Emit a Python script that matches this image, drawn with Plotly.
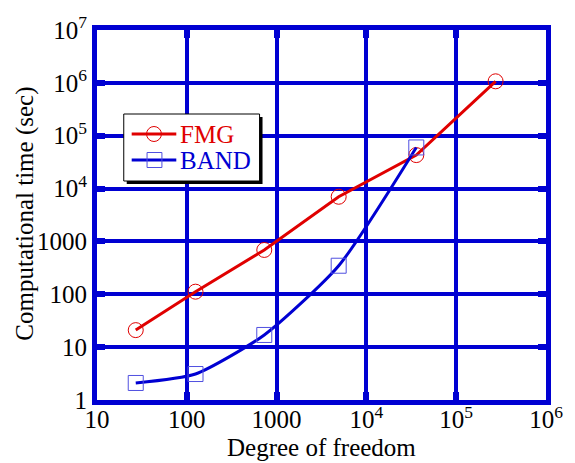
import plotly.graph_objects as go

dof = [27, 125, 729, 4913, 35937, 274625]
fmg_time = [21, 112, 690, 7000, 43000, 1.07e6]
band_dof = [27, 125, 729, 4913, 35937]
band_time = [2.1, 3.1, 17, 347, 60000]

x_tickvals = [10, 100, 1000, 1e4, 1e5, 1e6]
x_ticktext = ["10", "100", "1000", "10<sup>4</sup>", "10<sup>5</sup>", "10<sup>6</sup>"]
y_tickvals = [1, 10, 100, 1000, 1e4, 1e5, 1e6, 1e7]
y_ticktext = ["1", "10", "100", "1000", "10<sup>4</sup>", "10<sup>5</sup>", "10<sup>6</sup>", "10<sup>7</sup>"]

series_names = ["FMG", "BAND"]

RED = "#e00000"
BLUE = "#0000d2"
SQ = "#5050e0"
FONT = "Liberation Serif"

fig = go.Figure()
fig.add_trace(go.Scatter(
    x=dof, y=fmg_time, name=series_names[0], mode="lines+markers",
    line=dict(color=RED, width=3),
    marker=dict(symbol="circle-open", size=15, color=RED, line=dict(width=1)),
))
fig.add_trace(go.Scatter(
    x=band_dof, y=band_time, name=series_names[1], mode="lines+markers",
    line=dict(color=BLUE, width=3, shape="spline", smoothing=0.6),
    marker=dict(symbol="square-open", size=15, color=SQ, line=dict(width=1)),
))

axis_common = dict(
    type="log", showgrid=True, gridcolor=BLUE, gridwidth=4,
    showline=True, linecolor=BLUE, linewidth=5, mirror="all",
    ticks="inside", ticklen=8, tickwidth=6, tickcolor=BLUE,
    zeroline=False, tickfont=dict(family=FONT, size=25, color="black"),
)
fig.update_xaxes(range=[1, 6], tickvals=x_tickvals, ticktext=x_ticktext,
                 ticklabelstandoff=-7, **axis_common)
fig.update_yaxes(range=[0, 7], tickvals=y_tickvals, ticktext=y_ticktext, **axis_common)

L, R, T, B = 97, 25, 30, 63
W, H = 575, 463
pw, ph = W - L - R, H - T - B

def px(x):
    return (x - L) / pw

def py(y):
    return (H - B - y) / ph

shapes = []
annotations = []
# legend shadow and box
shapes.append(dict(type="rect", xref="paper", yref="paper",
                   x0=px(127), x1=px(264), y0=py(184), y1=py(117),
                   fillcolor="black", line=dict(width=0), layer="above"))
shapes.append(dict(type="rect", xref="paper", yref="paper",
                   x0=px(124), x1=px(261), y0=py(181), y1=py(114),
                   fillcolor="white", line=dict(color="black", width=1), layer="above"))
legend_colors = [RED, BLUE]
legend_ys = [134, 160]
for name, col, yy, kind in zip(series_names, legend_colors, legend_ys, ["circle", "square"]):
    shapes.append(dict(type="line", xref="paper", yref="paper",
                       x0=px(132), x1=px(177), y0=py(yy), y1=py(yy),
                       line=dict(color=col, width=3), layer="above"))
    if kind == "circle":
        shapes.append(dict(type="circle", xref="paper", yref="paper",
                           x0=px(154.5 - 7.5), x1=px(154.5 + 7.5),
                           y0=py(yy + 7.5), y1=py(yy - 7.5),
                           fillcolor="rgba(0,0,0,0)", line=dict(color=col, width=1),
                           layer="above"))
    else:
        shapes.append(dict(type="rect", xref="paper", yref="paper",
                           x0=px(155 - 7.5), x1=px(155 + 7.5),
                           y0=py(yy + 7.5), y1=py(yy - 7.5),
                           fillcolor="rgba(0,0,0,0)", line=dict(color=SQ, width=1),
                           layer="above"))
    annotations.append(dict(text=name, xref="paper", yref="paper",
                            x=px(179), y=py(yy), xanchor="left", yanchor="middle",
                            showarrow=False, font=dict(family=FONT, size=25, color=col)))

annotations += [
    dict(text="Degree of freedom", xref="paper", yref="paper",
         x=0.5, y=py(447), xanchor="center", yanchor="middle",
         showarrow=False, font=dict(family=FONT, size=25)),
    dict(text="Computational time (sec)", xref="paper", yref="paper",
         x=px(24), y=py(214), xanchor="center", yanchor="middle", textangle=-90,
         showarrow=False, font=dict(family=FONT, size=25)),
]

fig.update_layout(
    width=W, height=H,
    margin=dict(l=L, r=R, t=T, b=B),
    plot_bgcolor="white", paper_bgcolor="white",
    font=dict(family=FONT, size=25, color="black"),
    showlegend=False,
    shapes=shapes,
    annotations=annotations,
)

fig.write_html("out.html")
